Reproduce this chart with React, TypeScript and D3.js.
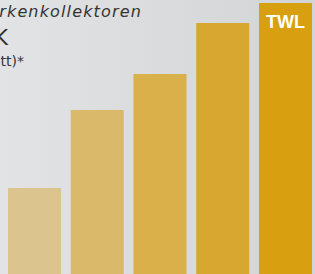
import React from 'react';
import * as d3 from 'd3';

const categories = ['A', 'B', 'C', 'D', 'TWL'];
const values = [86, 164, 200, 251, 271];
const barColors = ['#dcc48e', '#dab96b', '#d9b04a', '#d8a730', '#d8a010'];
const titleLines = ['Vergleich Markenkollektoren', 'bei ΔT = 50 K', '(Durchschnitt)*'];

export default function App() {
  const width = 315;
  const height = 274;

  const x = d3.scaleBand<string>()
    .domain(categories)
    .range([8, 312])
    .paddingInner(0.155)
    .paddingOuter(0);

  const y = d3.scaleLinear()
    .domain([0, 274])
    .range([height, 0]);

  const font = "'DejaVu Sans', sans-serif";

  return (
    <svg width={width} height={height}
      style={{ position: 'fixed', left: 0, top: 0, display: 'block' }}>
      <defs>
        <linearGradient id="bg" x1="0" y1="0" x2="1" y2="0">
          <stop offset="0%" stopColor="#e2e3e5" />
          <stop offset="100%" stopColor="#d3d4d6" />
        </linearGradient>
      </defs>
      <rect x={0} y={0} width={width} height={height} fill="url(#bg)" />

      <text x={142} y={17} textAnchor="end" fontFamily={font}
        fontStyle="italic" fontSize={16} letterSpacing={1.15} fill="#333">{titleLines[0]}</text>
      <text x={8} y={45} textAnchor="end" fontFamily={font}
        fontSize={21} fill="#333">{titleLines[1]}</text>
      <text x={24} y={66} textAnchor="end" fontFamily={font}
        fontSize={14} fill="#333">{titleLines[2]}</text>

      {categories.map((c, i) => (
        <rect key={c} x={x(c)} y={y(values[i])} width={x.bandwidth()}
          height={y(0) - y(values[i])} fill={barColors[i]} />
      ))}

      <text x={(x('TWL') as number) + x.bandwidth() / 2} y={28} textAnchor="middle"
        fontFamily="'Liberation Sans', Arial, sans-serif" fontWeight="bold"
        fontSize={18} fill="#fff">TWL</text>
    </svg>
  );
}
